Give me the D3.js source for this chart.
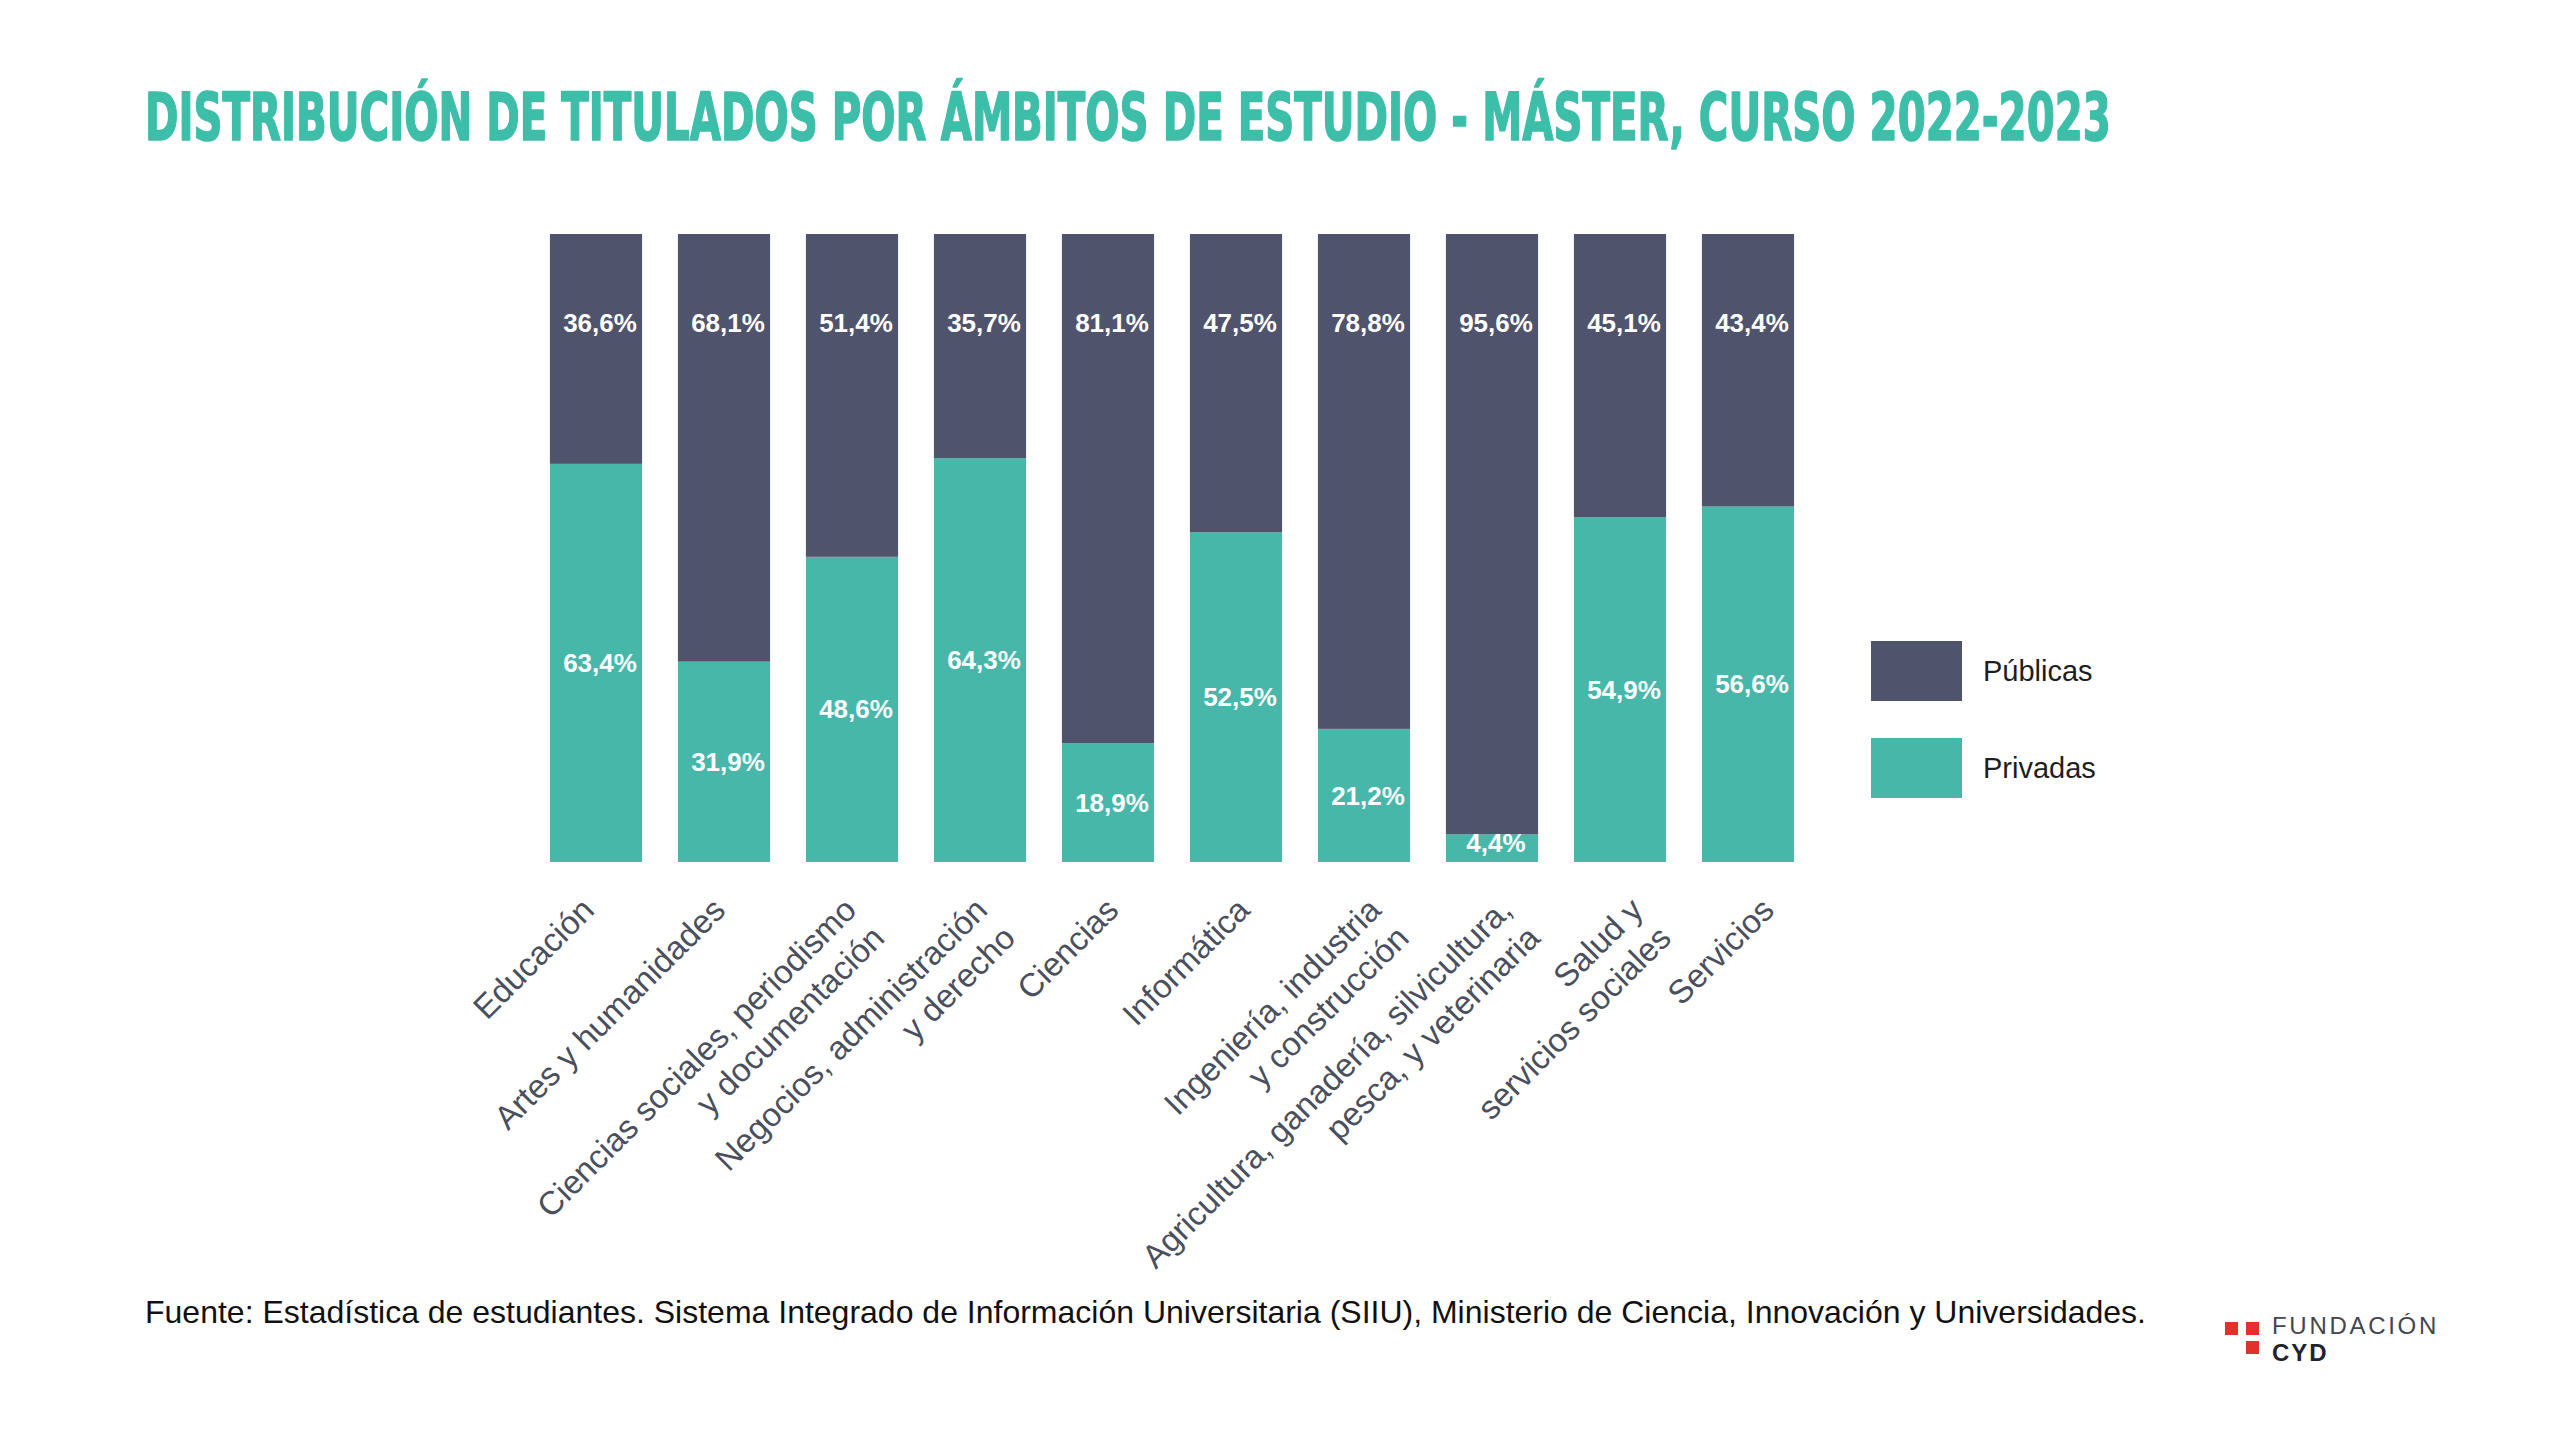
<!DOCTYPE html>
<html lang="es">
<head>
<meta charset="utf-8">
<title>Distribución de titulados por ámbitos de estudio - Máster</title>
<script src="https://cdn.jsdelivr.net/npm/d3@7"></script>
<style>
  html, body { margin: 0; padding: 0; background: #fff; }
  svg { display: block; }
</style>
</head>
<body>
<div id="chart"></div>
<script>
// Datos
const categorias = [
  'Educación',
  'Artes y humanidades',
  'Ciencias sociales, periodismo|y documentación',
  'Negocios, administración|y derecho',
  'Ciencias',
  'Informática',
  'Ingeniería, industria|y construcción',
  'Agricultura, ganadería, silvicultura,|pesca, y veterinaria',
  'Salud y|servicios sociales',
  'Servicios'
];
const publicas = [36.6, 68.1, 51.4, 35.7, 81.1, 47.5, 78.8, 95.6, 45.1, 43.4];
const privadas = [63.4, 31.9, 48.6, 64.3, 18.9, 52.5, 21.2, 4.4, 54.9, 56.6];
const series = ['Privadas', 'Públicas'];
const leyenda = ['Públicas', 'Privadas'];

const titulo = 'DISTRIBUCIÓN DE TITULADOS POR ÁMBITOS DE ESTUDIO - MÁSTER, CURSO 2022-2023';
const fuente = 'Fuente: Estadística de estudiantes. Sistema Integrado de Información Universitaria (SIIU), Ministerio de Ciencia, Innovación y Universidades.';

const width = 2560;
const height = 1440;
const fontBase = '"Helvetica Neue", "Liberation Sans", Arial, sans-serif';

const color = d3.scaleOrdinal()
  .domain(['Públicas', 'Privadas'])
  .range(['#4f536b', '#47b7aa']);

const es = d3.formatLocale({ decimal: ',', thousands: '.', grouping: [3], currency: ['', '€'] });
const fmt = v => es.format('.1f')(v) + '%';

const svg = d3.select('#chart')
  .append('svg')
  .attr('width', width)
  .attr('height', height)
  .attr('viewBox', `0 0 ${width} ${height}`);

svg.append('rect')
  .attr('width', width)
  .attr('height', height)
  .attr('fill', '#fff');

// Título: fuente condensada, ajustada al ancho del original
const tituloEl = svg.append('text')
  .attr('font-family', '"Liberation Sans Narrow", "DejaVu Sans Condensed", "Liberation Sans", sans-serif')
  .attr('font-weight', 700)
  .attr('font-size', 65)
  .attr('fill', '#3dbea9')
  .attr('stroke', '#3dbea9')
  .attr('stroke-width', 1.6)
  .attr('stroke-linejoin', 'round')
  .text(titulo);

const anchoTitulo = tituloEl.node().getComputedTextLength();
tituloEl.attr('transform', `translate(145,140) scale(${1966 / anchoTitulo},1)`);

// Escalas
const x = d3.scaleBand()
  .domain(categorias)
  .range([532, 1812])
  .paddingInner(0.28)
  .paddingOuter(0.14);

const y = d3.scaleLinear()
  .domain([0, 100])
  .range([862, 234]);

// las etiquetas giradas se separan un poco más que las barras
const xLabel = d3.scalePoint()
  .domain(categorias)
  .range([596, 1776]);

// Apilado
const tabla = categorias.map((c, i) => ({ cat: c, 'Privadas': privadas[i], 'Públicas': publicas[i] }));
const stack = d3.stack().keys(series)(tabla);

const capas = svg.append('g')
  .selectAll('g')
  .data(stack)
  .join('g')
  .attr('fill', d => color(d.key));

capas.selectAll('rect')
  .data(d => d)
  .join('rect')
  .attr('x', d => x(d.data.cat))
  .attr('y', d => y(d[1]))
  .attr('width', x.bandwidth())
  .attr('height', d => y(d[0]) - y(d[1]));

// Valores
const valores = svg.append('g')
  .attr('font-family', fontBase)
  .attr('font-weight', 700)
  .attr('font-size', 26)
  .attr('fill', '#fff')
  .attr('text-anchor', 'middle');

// Públicas: cerca del borde superior
valores.selectAll('text.pub')
  .data(tabla)
  .join('text')
  .attr('class', 'pub')
  .attr('x', d => x(d.cat) + x.bandwidth() / 2 + 4)
  .attr('y', y(100) + 89)
  .attr('dy', '0.35em')
  .text(d => fmt(d['Públicas']));

// Privadas: en el centro del tramo (sin pegarse al borde inferior)
valores.selectAll('text.priv')
  .data(tabla)
  .join('text')
  .attr('class', 'priv')
  .attr('x', d => x(d.cat) + x.bandwidth() / 2 + 4)
  .attr('y', d => Math.min((y(0) + y(d['Privadas'])) / 2, y(0) - 19))
  .attr('dy', '0.35em')
  .text(d => fmt(d['Privadas']));

// Etiquetas de categorías (giradas 45º)
const etiquetas = svg.append('g')
  .attr('font-family', fontBase)
  .attr('font-size', 33)
  .attr('fill', '#4a4f5e')
  .attr('text-anchor', 'end');

etiquetas.selectAll('text')
  .data(categorias)
  .join('text')
  .attr('transform', d => `translate(${xLabel(d)},${y(0) + 50}) rotate(-45)`)
  .each(function(d) {
    const lineas = d.split('|');
    d3.select(this).selectAll('tspan')
      .data(lineas)
      .join('tspan')
      .attr('x', 0)
      .attr('dy', (l, i) => i === 0 ? 0 : '1.2em')
      .text(l => l);
  });

// Leyenda
const leg = svg.append('g')
  .attr('transform', 'translate(1871,641)');

const items = leg.selectAll('g')
  .data(leyenda)
  .join('g')
  .attr('transform', (d, i) => `translate(0,${i * 97})`);

items.append('rect')
  .attr('width', 91)
  .attr('height', 60)
  .attr('fill', d => color(d));

items.append('text')
  .attr('x', 112)
  .attr('y', 30)
  .attr('dy', '0.35em')
  .attr('font-family', fontBase)
  .attr('font-size', 29)
  .attr('fill', '#1e1e1e')
  .text(d => d);

// Fuente
svg.append('text')
  .attr('x', 145)
  .attr('y', 1323)
  .attr('font-family', fontBase)
  .attr('font-size', 32)
  .attr('fill', '#111')
  .text(fuente);

// Logo Fundación CYD
const logo = svg.append('g')
  .attr('transform', 'translate(2225,1322)');

[[0, 0], [21, 0], [21, 19]].forEach(([dx, dy]) => {
  logo.append('rect')
    .attr('x', dx)
    .attr('y', dy)
    .attr('width', 13)
    .attr('height', 13)
    .attr('fill', '#e2312b');
});

logo.append('text')
  .attr('x', 47)
  .attr('y', 12)
  .attr('font-family', '"Liberation Sans", Arial, sans-serif')
  .attr('font-size', 24)
  .attr('letter-spacing', 2.7)
  .attr('fill', '#45454f')
  .text('FUNDACIÓN');

logo.append('text')
  .attr('x', 47)
  .attr('y', 39)
  .attr('font-family', '"Liberation Sans", Arial, sans-serif')
  .attr('font-weight', 700)
  .attr('font-size', 24)
  .attr('letter-spacing', 2)
  .attr('fill', '#23232e')
  .text('CYD');
</script>
</body>
</html>
